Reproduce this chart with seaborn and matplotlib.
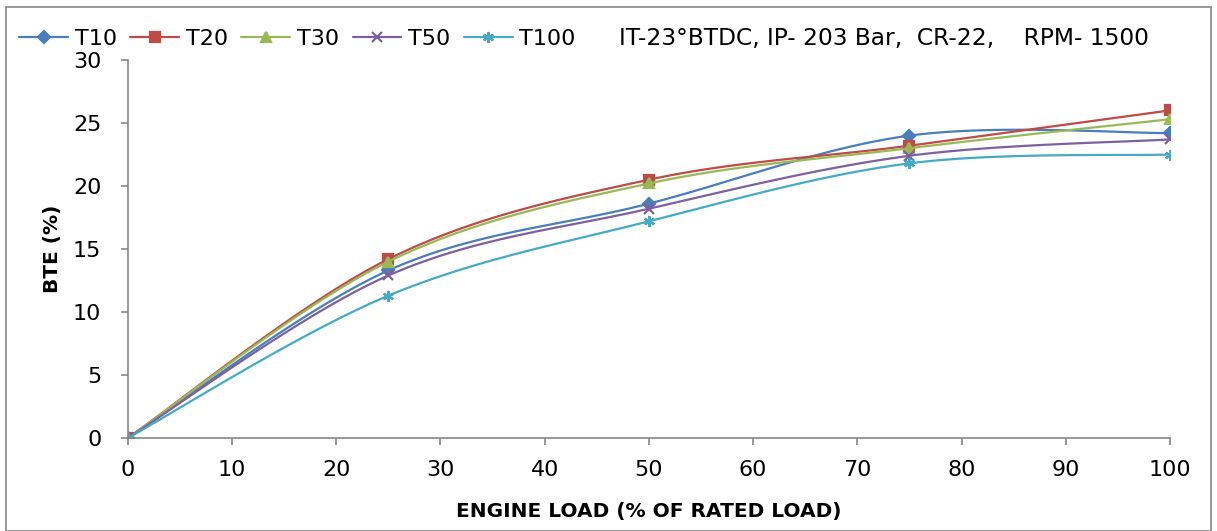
import numpy as np
import pandas as pd
import matplotlib
matplotlib.use("Agg")
import matplotlib.pyplot as plt
from matplotlib.patches import Rectangle
import seaborn as sns

# Engine load (% of rated load) and brake thermal efficiency (%) per fuel blend
load = [0, 25, 50, 75, 100]
t10 = [0, 13.3, 18.6, 24.0, 24.2]
t20 = [0, 14.2, 20.5, 23.2, 26.0]
t30 = [0, 14.0, 20.2, 23.0, 25.3]
t50 = [0, 12.9, 18.2, 22.4, 23.7]
t100 = [0, 11.3, 17.2, 21.8, 22.5]
series_names = ["T10", "T20", "T30", "T50", "T100"]
series_values = [t10, t20, t30, t50, t100]

colors = ["#4A7EBB", "#BE4B48", "#98B954", "#7D60A0", "#46AAC5"]
markers = ["D", "s", "^", "x", (6, 2, 0)]
msizes = [6, 7, 7, 7, 8]

sns.set_theme(style="white")
plt.rcParams["font.family"] = ["DejaVu Sans"]
plt.rcParams["text.color"] = "black"
plt.rcParams["axes.labelcolor"] = "black"


def smooth(xs, ys, steps=30):
    """Bezier smoothing through every data point (cardinal spline)."""
    p = np.column_stack([xs, ys]).astype(float)
    n = len(p)
    out = []
    t = np.linspace(0, 1, steps, endpoint=False)
    for i in range(n - 1):
        p0 = p[i - 1] if i > 0 else p[i]
        p3 = p[i + 2] if i + 2 < n else p[i + 1]
        c1 = p[i] + (p[i + 1] - p0) / 6.0
        c2 = p[i + 1] - (p3 - p[i]) / 6.0
        seg = ((1 - t) ** 3)[:, None] * p[i] + (3 * (1 - t) ** 2 * t)[:, None] * c1 \
            + (3 * (1 - t) * t ** 2)[:, None] * c2 + (t ** 3)[:, None] * p[i + 1]
        out.append(seg)
    out.append(p[-1:])
    curve = np.vstack(out)
    marks = [i * steps for i in range(n)]
    return curve[:, 0], curve[:, 1], marks


fig = plt.figure(figsize=(12.17, 5.31), dpi=100)
ax = fig.add_axes([0.105, 0.1751, 0.8564, 0.7119])

for name, vals, c, m, ms in zip(series_names, series_values, colors, markers, msizes):
    cx, cy, marks = smooth(load, vals)
    df = pd.DataFrame({"x": cx, "y": cy})
    sns.lineplot(data=df, x="x", y="y", ax=ax, color=c, linewidth=1.6,
                 marker=m, markersize=ms, markevery=marks, markeredgewidth=1.6,
                 markeredgecolor=c, markerfacecolor=c,
                 estimator=None, sort=False, label=name)

ax.set_xlim(0, 100)
ax.set_ylim(0, 30)
ax.set_xticks(range(0, 101, 10))
ax.set_yticks(range(0, 31, 5))
ax.tick_params(axis="both", labelsize=16, length=5, width=1.2, color="#868686",
               labelcolor="black", direction="out", bottom=True, left=True)
ax.tick_params(axis="x", pad=11)
ax.tick_params(axis="y", pad=14)
for s in ["top", "right"]:
    ax.spines[s].set_visible(False)
for s in ["left", "bottom"]:
    ax.spines[s].set_color("#868686")
    ax.spines[s].set_linewidth(1.2)
ax.set_xlabel("ENGINE LOAD (% OF RATED LOAD)", fontsize=14.5, fontweight="bold", labelpad=16)
ax.set_ylabel("BTE (%)", fontsize=14.5, fontweight="bold", labelpad=8)

ax.legend(loc="center left", bbox_to_anchor=(0.016, 0.927), bbox_transform=fig.transFigure,
          ncol=5, frameon=False, fontsize=16, handlelength=2.2, handletextpad=0.3,
          columnspacing=0.6, borderaxespad=0, borderpad=0)

fig.text(0.509, 0.927, "IT-23°BTDC, IP- 203 Bar,  CR-22,    RPM- 1500", fontsize=16.8,
         va="center", ha="left")

fig.patches.append(Rectangle((0.005, 0.0), 0.99, 0.987, transform=fig.transFigure,
                             fill=False, edgecolor="#868686", linewidth=1.2))

fig.savefig("out.png", dpi=100)
